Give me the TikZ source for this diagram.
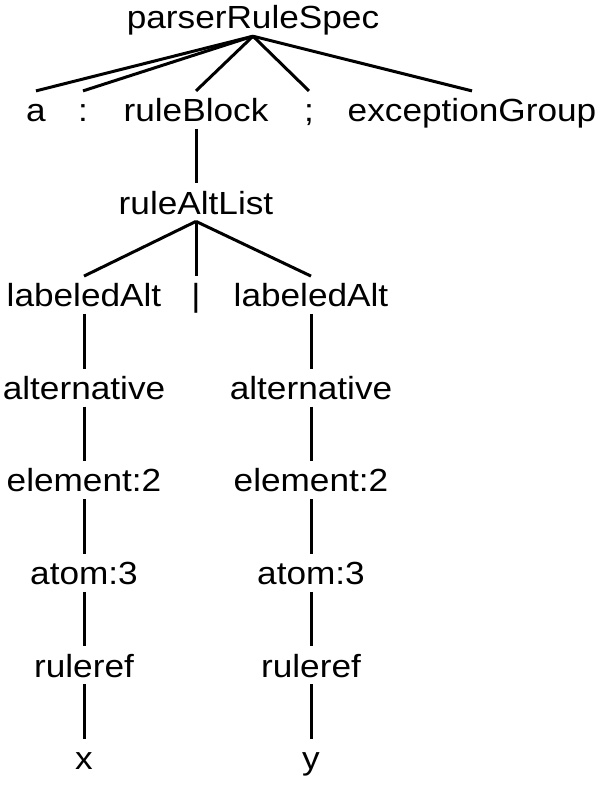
\documentclass[tikz,border=0pt]{standalone}
\usepackage{fontspec}
\setmainfont[FakeStretch=1.1]{Liberation Sans}
\begin{document}
\begin{tikzpicture}[x=1pt,y=1pt,
  tn/.style={anchor=base,inner sep=0pt,text height=30.5pt,text depth=7pt,font=\fontsize{32}{32}\selectfont},
  edge/.style={line width=3pt,black}]
\useasboundingbox (0,0) rectangle (602,788);
% rows: y = 788 - baseline
\node[tn] (prs) at (253,759) {parserRuleSpec};
\node[tn] (a) at (36,666.4) {a};
\node[tn] (colon) at (83,666.4) {:};
\node[tn] (rb) at (196,666.4) {ruleBlock};
\node[tn] (semi) at (309,666.4) {;};
\node[tn] (eg) at (472,666.4) {exceptionGroup};
\node[tn] (ral) at (196,573.8) {ruleAltList};
\node[tn] (la1) at (84,481.2) {labeledAlt};
\node[tn] (bar) at (196,481.2) {|};
\node[tn] (la2) at (311,481.2) {labeledAlt};
\node[tn] (alt1) at (84,388.6) {alternative};
\node[tn] (alt2) at (311,388.6) {alternative};
\node[tn] (el1) at (84,296) {element:2};
\node[tn] (el2) at (311,296) {element:2};
\node[tn] (at1) at (84,203.4) {atom:3};
\node[tn] (at2) at (311,203.4) {atom:3};
\node[tn] (rr1) at (84,110.8) {ruleref};
\node[tn] (rr2) at (311,110.8) {ruleref};
\node[tn] (x) at (84,18.2) {x};
\node[tn] (y) at (311,18.2) {y};
\foreach \c in {a,colon,rb,semi,eg} \draw[edge] (prs.south) -- (\c.north);
\draw[edge] (rb.south) -- (ral.north);
\foreach \c in {la1,bar,la2} \draw[edge] (ral.south) -- (\c.north);
\draw[edge] (la1.south) -- (alt1.north);
\draw[edge] (alt1.south) -- (el1.north);
\draw[edge] (el1.south) -- (at1.north);
\draw[edge] (at1.south) -- (rr1.north);
\draw[edge] (rr1.south) -- (x.north);
\draw[edge] (la2.south) -- (alt2.north);
\draw[edge] (alt2.south) -- (el2.north);
\draw[edge] (el2.south) -- (at2.north);
\draw[edge] (at2.south) -- (rr2.north);
\draw[edge] (rr2.south) -- (y.north);
\end{tikzpicture}
\end{document}
